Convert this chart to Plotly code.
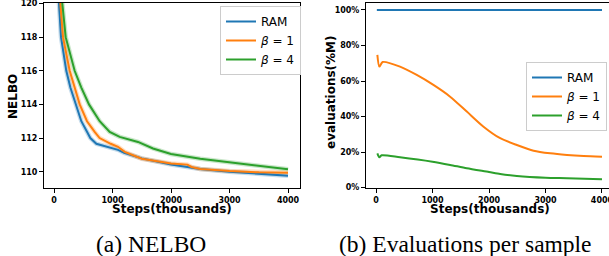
import plotly.graph_objects as go

W, H = 609, 256

# ---------------- data ----------------
series_names = ["RAM", "<i>β</i> = 1", "<i>β</i> = 4"]
colors = ["#1f77b4", "#ff7f0e", "#2ca02c"]

# (a) NELBO vs steps (thousands)
nelbo_ram_steps = [60, 85, 120, 210, 280, 370, 467, 564, 621, 724, 895, 1094, 1200,
                   1500, 2000, 2500, 3000, 3500, 4000]
nelbo_ram = [125, 120, 118, 116, 115, 114, 113, 112.37, 112, 111.66, 111.5, 111.3, 111.12,
             110.79, 110.43, 110.16, 110.0, 109.86, 109.76]

nelbo_b1_steps = [70, 108, 154, 268, 439, 564, 695, 780, 969, 1094, 1208, 1500, 2000,
                  2280, 2350, 2500, 3000, 3500, 4000]
nelbo_b1 = [125, 120, 118, 116, 114, 113, 112.37, 112, 111.66, 111.48, 111.18, 110.77, 110.49,
            110.42, 110.28, 110.16, 110.04, 109.96, 109.94]

nelbo_b4_steps = [90, 142, 200, 353, 467, 598, 781, 952, 1122, 1436, 1692, 2000, 2500,
                  3000, 3500, 4000]
nelbo_b4 = [126, 120, 118, 116, 115, 114, 113, 112.37, 112.07, 111.77, 111.38, 111.05, 110.77,
            110.55, 110.33, 110.14]

# (b) evaluations per sample (% of M)
eval_ram_steps = [15, 4000]
eval_ram = [100, 100]

eval_b1_steps = [24, 59, 118, 425, 721, 1016, 1312, 1607, 1903, 2198, 2493, 2789, 3084,
                 3380, 3675, 4000]
eval_b1 = [74.7, 68.1, 70.7, 68.1, 63.4, 57.8, 51.2, 42.8, 34.3, 27.8, 24.0, 20.8, 19.3,
           18.4, 17.8, 17.4]

eval_b4_steps = [24, 59, 100, 425, 1000, 1312, 1607, 2000, 2198, 2493, 3000, 3380, 4000]
eval_b4 = [19.3, 17.1, 18.2, 17.1, 14.6, 12.8, 10.9, 8.8, 7.7, 6.6, 5.6, 5.3, 4.7]

x_ticks = [0, 1000, 2000, 3000, 4000]
x_tick_labels = ["0", "1000", "2000", "3000", "4000"]
nelbo_ticks = [110, 112, 114, 116, 118, 120]
nelbo_tick_labels = ["110", "112", "114", "116", "118", "120"]
eval_ticks = [0, 20, 40, 60, 80, 100]
eval_tick_labels = ["0%", "20%", "40%", "60%", "80%", "100%"]


def bold(labels):
    return ["<b>" + t + "</b>" for t in labels]


# ---------------- figure ----------------
fig = go.Figure()

left = [(nelbo_ram_steps, nelbo_ram), (nelbo_b1_steps, nelbo_b1), (nelbo_b4_steps, nelbo_b4)]
right = [(eval_ram_steps, eval_ram), (eval_b1_steps, eval_b1), (eval_b4_steps, eval_b4)]

# faint band under NELBO curves
for (xs, ys), c in zip(left, colors):
    fig.add_trace(go.Scatter(x=xs, y=ys, mode="lines", line=dict(color=c, width=4.5),
                             opacity=0.25, showlegend=False, hoverinfo="skip",
                             xaxis="x", yaxis="y"))
for (xs, ys), c, n in zip(left, colors, series_names):
    fig.add_trace(go.Scatter(x=xs, y=ys, mode="lines", name=n, line=dict(color=c, width=2),
                             xaxis="x", yaxis="y", legend="legend"))
for (xs, ys), c, n in zip(right, colors, series_names):
    fig.add_trace(go.Scatter(x=xs, y=ys, mode="lines", name=n,
                             line=dict(color=c, width=2, shape="spline", smoothing=0.7),
                             xaxis="x2", yaxis="y2", legend="legend2"))

tickfont = dict(family="DejaVu Sans", size=8, color="black")
axis_common = dict(showline=True, linecolor="black", linewidth=1, ticks="outside",
                   ticklen=4, tickwidth=1, tickcolor="black", showgrid=False,
                   zeroline=False, tickfont=tickfont, tickmode="array",
                   automargin=False, ticklabeloverflow="allow")

ydom = [68 / H, 253 / H]
fig.update_layout(
    width=W, height=H,
    margin=dict(l=0, r=0, t=0, b=0, autoexpand=False),
    paper_bgcolor="white", plot_bgcolor="white",
    font=dict(family="DejaVu Sans", color="black"),
    xaxis=dict(domain=[44 / W, 300 / W], range=[-171, 4205], tickvals=x_ticks,
               ticktext=bold(x_tick_labels), mirror=True, anchor="y", **axis_common),
    yaxis=dict(domain=ydom, range=[109.03, 120.03], tickvals=nelbo_ticks,
               ticktext=bold(nelbo_tick_labels), mirror=True, anchor="x", **axis_common),
    xaxis2=dict(domain=[366 / W, 1.0], range=[-177, 4124], tickvals=x_ticks,
                ticktext=bold(x_tick_labels), mirror=True, anchor="y2", **axis_common),
    yaxis2=dict(domain=ydom, range=[-0.2, 103.9], tickvals=eval_ticks,
                ticktext=bold(eval_tick_labels), mirror=False, anchor="x2", **axis_common),
    legend=dict(x=220 / W, y=1 - 6 / H, xanchor="left", yanchor="top",
                bgcolor="rgba(255,255,255,0.85)", bordercolor="#cccccc", borderwidth=1,
                font=dict(family="DejaVu Sans", size=12, color="black"), itemwidth=30),
    legend2=dict(x=607 / W, y=1 - 62 / H, xanchor="right", yanchor="top",
                 bgcolor="rgba(255,255,255,0.85)", bordercolor="#cccccc", borderwidth=1,
                 font=dict(family="DejaVu Sans", size=12, color="black"), itemwidth=30),
    showlegend=True,
)

label_font = dict(family="DejaVu Sans", size=12, color="black")
caption_font = dict(family="Liberation Serif", size=23.5, color="black")
annos = [
    dict(text="<b>NELBO</b>", x=13 / W, y=1 - 97 / H, textangle=-90, font=label_font),
    dict(text="<b>evaluations(%M)</b>", x=331 / W, y=1 - 92 / H, textangle=-90, font=label_font),
    dict(text="<b>Steps(thousands)</b>", x=172 / W, y=1 - 209 / H, font=label_font),
    dict(text="<b>Steps(thousands)</b>", x=490 / W, y=1 - 209 / H, font=label_font),
    dict(text="(a) NELBO", x=151 / W, y=1 - 244 / H, font=caption_font),
    dict(text="(b) Evaluations per sample", x=465 / W, y=1 - 244 / H, font=caption_font),
]
for a in annos:
    fig.add_annotation(xref="paper", yref="paper", showarrow=False,
                       xanchor="center", yanchor="middle", **a)

fig.write_html("out.html", config={"displayModeBar": False},
               post_script="document.body.style.margin='0';document.body.style.overflow='hidden';")
